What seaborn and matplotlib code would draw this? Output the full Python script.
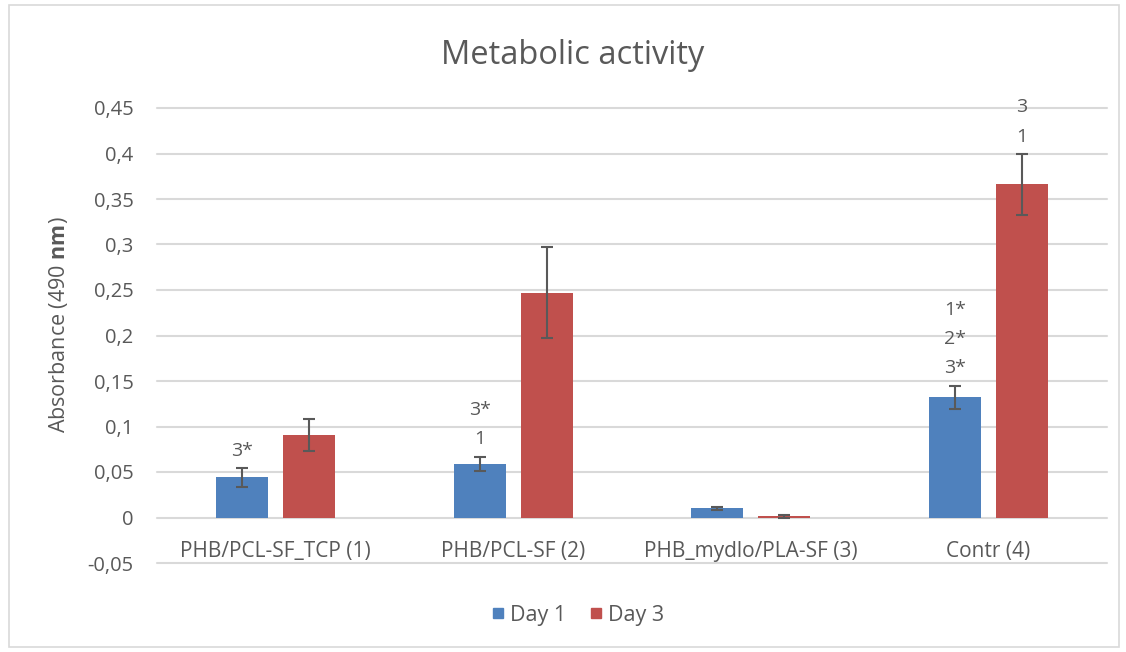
import numpy as np
import pandas as pd
import matplotlib
matplotlib.use("Agg")
import matplotlib.pyplot as plt
from matplotlib.lines import Line2D
from matplotlib.patches import Rectangle
from matplotlib.ticker import FuncFormatter, MultipleLocator
import seaborn as sns

# ---- data ----
categories = ["PHB/PCL-SF_TCP (1)", "PHB/PCL-SF (2)", "PHB_mydlo/PLA-SF (3)", "Contr (4)"]
series_names = ["Day 1", "Day 3"]
day1_values = [0.044, 0.059, 0.010, 0.132]
day1_errors = [0.010, 0.008, 0.002, 0.013]
day3_values = [0.091, 0.247, 0.0015, 0.366]
day3_errors = [0.0175, 0.050, 0.0015, 0.0335]
day1_labels = ["3*", "3*\n1", "", "1*\n2*\n3*"]
day3_labels = ["", "", "", "3\n1"]

colors = ["#4f81bd", "#c0504d"]
text_color = "#595959"
grid_color = "#d9d9d9"

df = pd.DataFrame({
    "category": categories * 2,
    "series": [series_names[0]] * 4 + [series_names[1]] * 4,
    "value": day1_values + day3_values,
})

sns.set_theme(style="white")
plt.rcParams["font.family"] = ["Open Sans", "DejaVu Sans"]
plt.rcParams["mathtext.fontset"] = "custom"
plt.rcParams["mathtext.rm"] = "Open Sans"
plt.rcParams["mathtext.bf"] = "Open Sans:bold"

fig = plt.figure(figsize=(11.26, 6.52), dpi=100)
ax = fig.add_axes([157 / 1126, 1 - 563 / 652, 950 / 1126, 455 / 652])

sns.barplot(data=df, x="category", y="value", hue="series", order=categories,
            hue_order=series_names, palette=colors, width=0.564, gap=0.224,
            errorbar=None, ax=ax, saturation=1, edgecolor="none", legend=False)

errs_all = [day1_errors, day3_errors]
labels_all = [day1_labels, day3_labels]
for cont, errs, labs in zip(ax.containers, errs_all, labels_all):
    xs = [p.get_x() + p.get_width() / 2 for p in cont.patches]
    ys = [p.get_height() for p in cont.patches]
    ax.errorbar(xs, ys, yerr=errs, fmt="none", ecolor=text_color, elinewidth=1.5,
                capsize=4.5, capthick=1.5, zorder=4)
    for x, y, e, lab in zip(xs, ys, errs, labs):
        if lab:
            ax.annotate(lab, xy=(x, y + e), xytext=(0, 6), textcoords="offset points",
                        ha="center", va="bottom", fontsize=14, color=text_color,
                        linespacing=1.8)

ax.set_ylim(-0.05, 0.45)
ax.set_xlim(-0.5, 3.5)
ax.yaxis.set_major_locator(MultipleLocator(0.05))
ax.yaxis.set_major_formatter(FuncFormatter(lambda v, p: ("%g" % round(v, 2)).replace(".", ",")))
ax.grid(axis="y", color=grid_color, linewidth=1.5)
ax.grid(axis="x", visible=False)
for gl in ax.get_ygridlines():
    gl.set_clip_on(False)
ax.set_axisbelow(True)
for s in ax.spines.values():
    s.set_visible(False)
ax.tick_params(axis="y", length=0, pad=17, labelsize=14.5, labelcolor=text_color)
ax.tick_params(axis="x", length=0, pad=-16, labelsize=15, labelcolor=text_color)
ax.set_xlabel("")
ax.set_ylabel("Absorbance (490 $\\mathbf{nm}$)", fontsize=15.5, color=text_color)
ax.yaxis.set_label_coords(-0.092, 0.523)

fig.text(573 / 1126, 1 - 56 / 652, "Metabolic activity", ha="center", va="center",
         fontsize=23.5, color=text_color)

handles = [Line2D([0], [0], marker="s", linestyle="none", markersize=7.5,
                  markerfacecolor=c, markeredgecolor=c) for c in colors]
fig.legend(handles, series_names, loc="center", bbox_to_anchor=(576 / 1126, 1 - 615 / 652),
           ncol=2, frameon=False, fontsize=15.5, labelcolor=text_color,
           handletextpad=0.05, columnspacing=0.9, handlelength=1.0)

fig.patches.append(Rectangle((9 / 1126, 5 / 652), 1110 / 1126, 642 / 652,
                             transform=fig.transFigure, fill=False,
                             edgecolor=grid_color, linewidth=1.2))

fig.savefig("out.png", dpi=100, facecolor="white")
